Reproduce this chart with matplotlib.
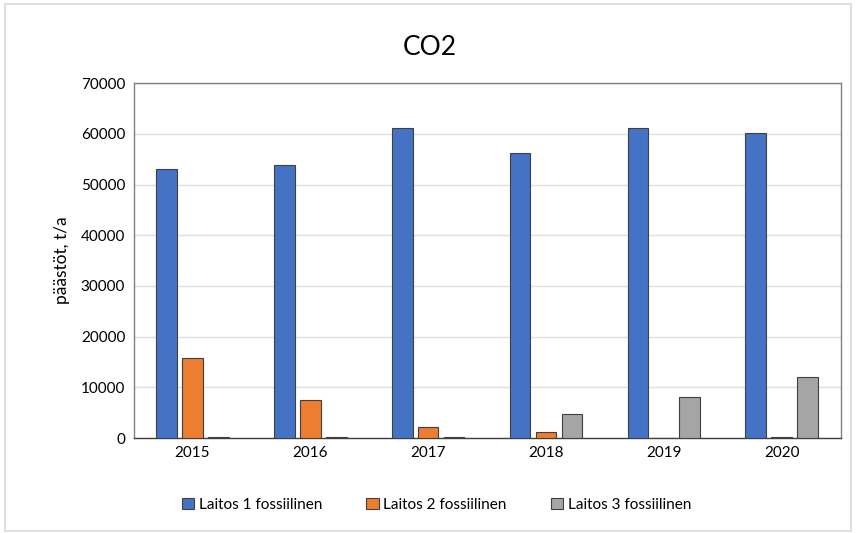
import matplotlib
matplotlib.use("Agg")
import matplotlib.pyplot as plt
import numpy as np
from matplotlib.patches import Rectangle

years = ["2015", "2016", "2017", "2018", "2019", "2020"]
laitos1 = [53000, 53900, 61100, 56200, 61100, 60200]
laitos2 = [15800, 7600, 2100, 1300, 0, 200]
laitos3 = [200, 200, 200, 4700, 8200, 12000]
series_names = ["Laitos 1 fossiilinen", "Laitos 2 fossiilinen", "Laitos 3 fossiilinen"]
colors = ["#4472C4", "#ED7D31", "#A5A5A5"]
yticks = [0, 10000, 20000, 30000, 40000, 50000, 60000, 70000]

plt.rcParams['font.family'] = ['Lato', 'DejaVu Sans']

fig = plt.figure(figsize=(8.56, 5.33), dpi=100)
fig.patches.append(Rectangle((0.006, 0.004), 0.988, 0.988, transform=fig.transFigure,
                             fill=False, edgecolor="#d9d9d9", linewidth=1.2))
ax = fig.add_axes([0.156, 0.178, 0.826, 0.666])

x = np.arange(len(years))
w = 0.175
step = 0.22
for i, (vals, name, c) in enumerate(zip([laitos1, laitos2, laitos3], series_names, colors)):
    ax.bar(x + (i - 1) * step, vals, width=w, color=c, edgecolor="#404040",
           linewidth=0.8, label=name, zorder=3)

ax.set_xlim(-0.5, len(years) - 0.5)
ax.set_ylim(0, 70000)
ax.set_yticks(yticks)
ax.set_yticklabels([str(t) for t in yticks], fontsize=11)
ax.set_xticks(x)
ax.set_xticklabels(years, fontsize=11)
ax.tick_params(axis="both", length=0, pad=6)
ax.grid(axis="y", color="#e0e0e0", linewidth=1, zorder=0)
for s in ax.spines.values():
    s.set_color("#808080")
    s.set_linewidth(1)
ax.spines["bottom"].set_color("#404040")
ax.set_ylabel("päästöt, t/a", fontsize=12.5, labelpad=8)

fig.text(0.502, 0.91, "CO2", ha="center", va="center", fontsize=19)

handles, labels = ax.get_legend_handles_labels()
fig.legend(handles, labels, loc="center", bbox_to_anchor=(0.51, 0.053), ncol=3,
           frameon=False, fontsize=11, handlelength=0.8, handleheight=0.8,
           handletextpad=0.3, columnspacing=2.9)

fig.savefig("out.png", dpi=100)
